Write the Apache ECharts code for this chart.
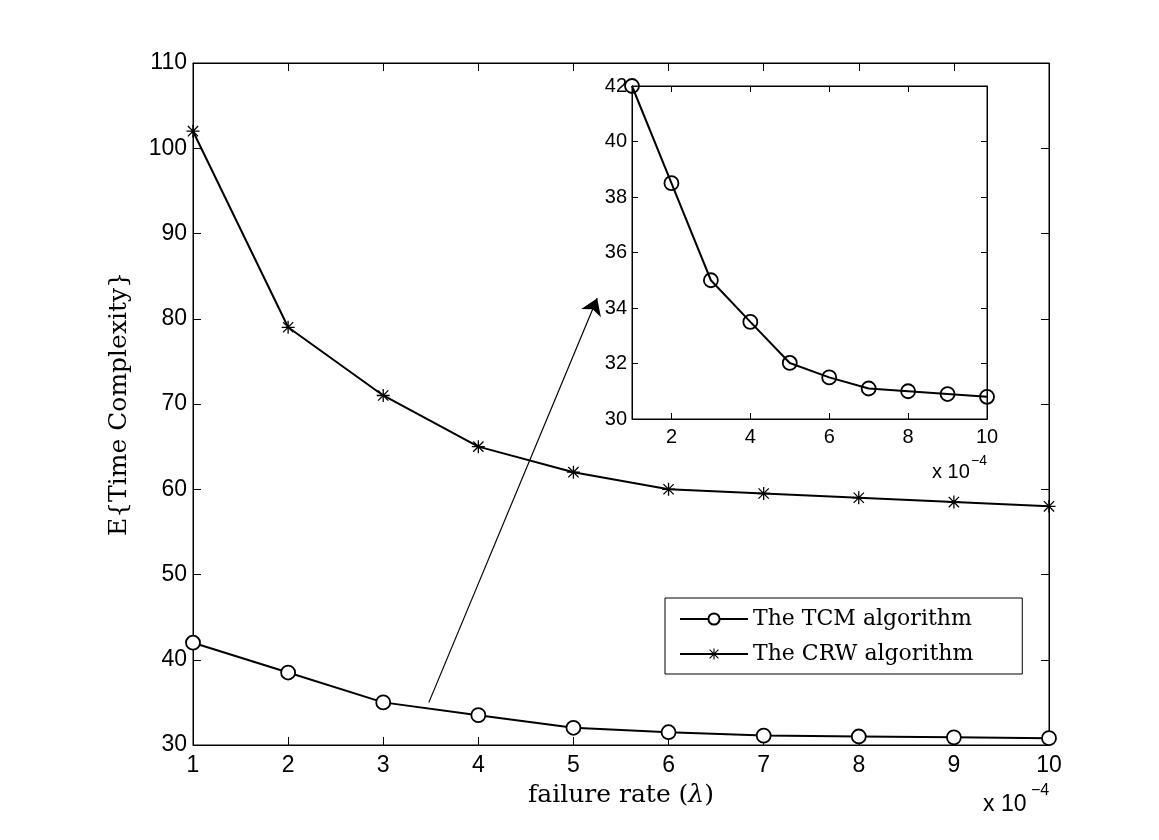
<!DOCTYPE html>
<html style="height: 100%">
<head>
    <meta charset="utf-8">
    <title>Time complexity vs failure rate</title>
    <script src="https://cdn.jsdelivr.net/npm/echarts/dist/echarts.min.js"></script>
</head>
<body style="height: 100%; margin: 0; background: #fff">
    <div id="main" style="width: 1159px; height: 840px"></div>
    <script type="text/javascript">
        var myChart = echarts.init(document.getElementById('main'));

        // failure rate, in units of 1e-4
        var rates = [1, 2, 3, 4, 5, 6, 7, 8, 9, 10];
        var tcmValues = [42, 38.5, 35, 33.5, 32.02, 31.5, 31.1, 31.0, 30.9, 30.8];
        var crwValues = [102, 79, 71, 65, 62, 60, 59.5, 59, 58.5, 58];
        var insetTicks = [2, 4, 6, 8, 10];
        // arrow from the TCM curve to the inset (data coords of the main plot)
        var arrowFrom = [3.48, 35.0];
        var arrowTo = [5.25, 82.4];

        function pairs(xs, ys) {
            return xs.map(function (x, i) { return [x, ys[i]]; });
        }

        // MATLAB-like '*' marker
        var starPath = 'path://M9 0L11 0L11 20L9 20Z M0 9L20 9L20 11L0 11Z ' +
            'M1.4 2.8L2.8 1.4L18.6 17.2L17.2 18.6Z M17.2 1.4L18.6 2.8L2.8 18.6L1.4 17.2Z';

        var tickFont = 'Liberation Sans';
        var serif = 'DejaVu Serif';

        function frameAxis(gridIndex, pos, min, max, interval, tickLen, custom) {
            var ax = {
                type: 'value', gridIndex: gridIndex, position: pos,
                min: min, max: max, interval: interval,
                axisLine: { show: true, onZero: false, lineStyle: { color: '#000', width: 1 } },
                axisTick: { show: true, inside: true, length: tickLen, lineStyle: { color: '#000', width: 1 } },
                axisLabel: { show: false },
                splitLine: { show: false }
            };
            if (custom) {
                ax.axisTick.customValues = custom;
            }
            return ax;
        }

        var xMain = frameAxis(0, 'bottom', 1, 10, 1, 8);
        xMain.axisLabel = { show: true, color: '#000', fontFamily: tickFont, fontSize: 23, margin: 9 };
        xMain.name = 'failure rate ({i|λ})';
        xMain.nameLocation = 'middle';
        xMain.nameGap = 38;
        xMain.nameTextStyle = {
            color: '#000', fontFamily: serif, fontSize: 25,
            rich: { i: { fontFamily: serif, fontStyle: 'italic', fontSize: 25, color: '#000' } }
        };

        var yMain = frameAxis(0, 'left', 30, 110, 10, 8);
        yMain.axisLabel = { show: true, color: '#000', fontFamily: tickFont, fontSize: 23, margin: 6 };
        yMain.name = 'E{Time Complexity}';
        yMain.nameLocation = 'middle';
        yMain.nameGap = 61;
        yMain.nameTextStyle = { color: '#000', fontFamily: serif, fontSize: 25 };

        var xInset = frameAxis(1, 'bottom', 1, 10, 1, 6, insetTicks);
        xInset.axisLabel = { show: true, color: '#000', fontFamily: tickFont, fontSize: 20, margin: 8, customValues: insetTicks };

        var yInset = frameAxis(1, 'left', 30, 42, 2, 6);
        yInset.axisLabel = { show: true, color: '#000', fontFamily: tickFont, fontSize: 20, margin: 5 };

        var option = {
            animation: false,
            backgroundColor: '#fff',
            grid: [
                { left: 193, right: 110, top: 63, bottom: 95, show: true, borderColor: '#000', borderWidth: 1, backgroundColor: 'transparent' },
                { left: 632, right: 172, top: 86, bottom: 421, show: true, borderColor: '#000', borderWidth: 1, backgroundColor: '#fff' }
            ],
            legend: {
                orient: 'vertical',
                left: 665,
                top: 598,
                data: ['The TCM algorithm', 'The CRW algorithm'],
                itemWidth: 68,
                itemHeight: 14,
                itemGap: 13,
                padding: [10, 49, 9, 14],
                borderColor: '#000',
                borderWidth: 1,
                backgroundColor: '#fff',
                textStyle: { color: '#000', fontFamily: serif, fontSize: 22 },
                selectedMode: false
            },
            xAxis: [
                xMain,
                frameAxis(0, 'top', 1, 10, 1, 8),
                xInset,
                frameAxis(1, 'top', 1, 10, 1, 6, insetTicks)
            ],
            yAxis: [
                yMain,
                frameAxis(0, 'right', 30, 110, 10, 8),
                yInset,
                frameAxis(1, 'right', 30, 42, 2, 6)
            ],
            graphic: [
                { type: 'text', left: 983, top: 793, style: { text: 'x 10', fill: '#000', font: '23px "Liberation Sans"' } },
                { type: 'text', left: 1031, top: 783, style: { text: '\u22124', fill: '#000', font: '16px "Liberation Sans"' } },
                { type: 'text', left: 932, top: 462, style: { text: 'x 10', fill: '#000', font: '20px "Liberation Sans"' } },
                { type: 'text', left: 971, top: 454, style: { text: '\u22124', fill: '#000', font: '14px "Liberation Sans"' } }
            ],
            series: [
                {
                    name: 'The TCM algorithm',
                    type: 'line',
                    xAxisIndex: 0, yAxisIndex: 0,
                    data: pairs(rates, tcmValues),
                    symbol: 'circle',
                    symbolSize: 14,
                    lineStyle: { color: '#000', width: 2 },
                    itemStyle: { color: '#fff', borderColor: '#000', borderWidth: 1.8 },
                    clip: false,
                    z: 3,
                    markLine: {
                        silent: true,
                        symbol: ['none', 'arrow'],
                        symbolSize: 16,
                        label: { show: false },
                        lineStyle: { color: '#000', width: 1.2, type: 'solid' },
                        data: [[{ coord: arrowFrom }, { coord: arrowTo }]]
                    }
                },
                {
                    name: 'The CRW algorithm',
                    type: 'line',
                    xAxisIndex: 0, yAxisIndex: 0,
                    data: pairs(rates, crwValues),
                    symbol: starPath,
                    symbolSize: 13,
                    lineStyle: { color: '#000', width: 2 },
                    itemStyle: { color: '#000' },
                    clip: false,
                    z: 3
                },
                {
                    name: 'TCM inset',
                    type: 'line',
                    xAxisIndex: 2, yAxisIndex: 2,
                    data: pairs(rates, tcmValues),
                    symbol: 'circle',
                    symbolSize: 14,
                    lineStyle: { color: '#000', width: 2 },
                    itemStyle: { color: 'rgba(255,255,255,0)', borderColor: '#000', borderWidth: 1.8 },
                    clip: false,
                    z: 5
                }
            ]
        };

        myChart.setOption(option);
    </script>
</body>
</html>
